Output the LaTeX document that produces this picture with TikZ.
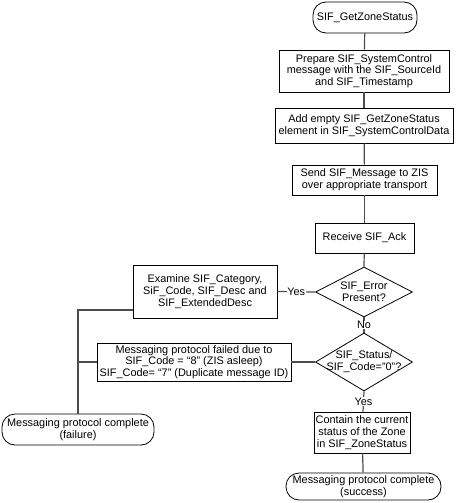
\documentclass[tikz,border=0pt]{standalone}
\usepackage{fontspec}
\setmainfont{Liberation Sans}
\usetikzlibrary{shapes.geometric}

\begin{document}
\begin{tikzpicture}[x=1pt,y=-1pt,font=\fontsize{10.9}{11.8}\selectfont,
	box/.style={draw,rectangle,align=center,inner sep=1pt,line width=0.8pt},
	term/.style={box,rounded corners=13pt},
	decision/.style={draw,diamond,inner sep=0pt,minimum width=97,line width=0.8pt},
	link/.style={draw=black!70,line width=1.2pt},
	lbl/.style={fill=white,inner sep=0.6pt}]
		\useasboundingbox (0,0) rectangle (455,503);
		% main column
		\node[term,minimum width=104,minimum height=31] (start) at (365,17.5) {SIF\_GetZoneStatus};
		\node[box,minimum width=170,minimum height=42] (prep) at (364,71) {Prepare SIF\_SystemControl\\message with the SIF\_SourceId\\and SIF\_Timestamp};
		\node[box,minimum width=178,minimum height=35] (add) at (364,125.5) {Add empty SIF\_GetZoneStatus\\element in SIF\_SystemControlData};
		\node[box,minimum width=145,minimum height=30] (send) at (364.5,180) {Send SIF\_Message to ZIS\\over appropriate transport};
		\node[box,minimum width=99,minimum height=30] (recv) at (364.5,238) {Receive SIF\_Ack};
		\node[decision,minimum height=50,label={[align=center]center:SIF\_Error\\Present?}] (err) at (364,292) {};
		\node[decision,minimum height=58,label={[align=center]center:SIF\_Status/\\SIF\_Code="0"?}] (stat) at (364,362) {};
		\node[box,minimum width=96,minimum height=41] (cont) at (362,432.5) {Contain the current\\status of the Zone\\in SIF\_ZoneStatus};
		\node[term,minimum width=155,minimum height=27] (succ) at (363.5,486.5) {Messaging protocol complete\\(success)};
		% failure side
		\node[box,minimum width=144,minimum height=53] (exam) at (205,291.5) {Examine SIF\_Category,\\SiF\_Code, SIF\_Desc and\\SIF\_ExtendedDesc};
		\node[box,minimum width=194,minimum height=38] (fail) at (194,362) {Messaging protocol failed due to\\SIF\_Code = “8” (ZIS asleep)\\SIF\_Code= “7” (Duplicate message ID)};
		\node[term,minimum width=152,minimum height=31] (failend) at (78,429.5) {Messaging protocol complete\\(failure)};
		\path[link] (start) -- (prep);
		\path[link] (prep) -- (add);
		\path[link] (add) -- (send);
		\path[link] (send) -- (recv);
		\path[link] (recv) -- (err.north);
		\path[link] (err.west) -- node[lbl] {Yes} (exam.east);
		\path[link] (err.south) -- node[lbl] {No} (stat.north);
		\path[link] (stat.south) -- node[lbl] {Yes} (cont);
		\path[link] (cont) -- (succ);
		\path[link] (stat.west) -- (fail.east);
		\path[link] ([yshift=-18.5pt]exam.west) -| (failend.north);
		\path[link] (fail.west) -- (fail.west -| failend.north);
\end{tikzpicture}
\end{document}
